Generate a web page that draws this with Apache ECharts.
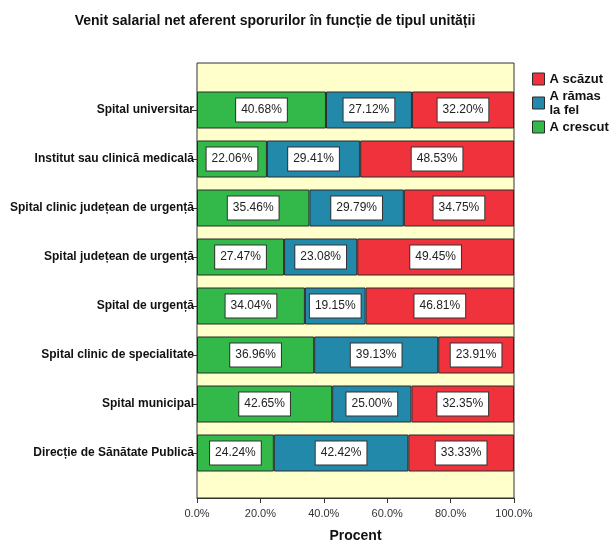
<!DOCTYPE html>
<html>
<head>
<meta charset="utf-8">
<script src="https://cdn.jsdelivr.net/npm/echarts@6/dist/echarts.min.js"></script>
<style>
  html, body { margin: 0; padding: 0; background: #fff; }
  #chart { width: 609px; height: 542px; }
</style>
</head>
<body>
<div id="chart"></div>
<script>
// Unit types, top to bottom
const categories = [
  'Spital universitar',
  'Institut sau clinică medicală',
  'Spital clinic județean de urgență',
  'Spital județean de urgență',
  'Spital de urgență',
  'Spital clinic de specialitate',
  'Spital municipal',
  'Direcție de Sănătate Publică'
];

// Percentages per answer
const aCrescut = [40.68, 22.06, 35.46, 27.47, 34.04, 36.96, 42.65, 24.24];
const aRamasLaFel = [27.12, 29.41, 29.79, 23.08, 19.15, 39.13, 25.00, 42.42];
const aScazut = [32.20, 48.53, 34.75, 49.45, 46.81, 23.91, 32.35, 33.33];

const xTicks = [0, 20, 40, 60, 80, 100];

const FONT = '"Liberation Sans", Arial, sans-serif';

function makeSeries(name, data, color) {
  return {
    name: name,
    type: 'bar',
    stack: 'total',
    xAxisIndex: 1,
    yAxisIndex: 1,
    barWidth: 37,
    data: data,
    itemStyle: { color: color, borderColor: '#2b2b2b', borderWidth: 1 },
    label: {
      show: true,
      position: 'inside',
      formatter: p => p.value.toFixed(2) + '%',
      fontFamily: FONT,
      fontSize: 12,
      color: '#222',
      backgroundColor: '#fff',
      borderColor: '#333',
      borderWidth: 1,
      padding: [6, 5, 5, 5]
    },
    emphasis: { disabled: true }
  };
}

const chart = echarts.init(document.getElementById('chart'), null, { renderer: 'canvas' });

chart.setOption({
  animation: false,
  title: {
    text: 'Venit salarial net aferent sporurilor în funcție de tipul unității',
    left: 270,
    textAlign: 'center',
    top: 9,
    textStyle: { fontFamily: FONT, fontSize: 14, fontWeight: 'bold', color: '#111' }
  },
  legend: {
    orient: 'vertical',
    left: 532,
    top: 72,
    padding: 0,
    icon: 'rect',
    itemWidth: 12,
    itemHeight: 12,
    itemGap: 3,
    data: ['A scăzut', 'A rămas\nla fel', 'A crescut'],
    itemStyle: { borderColor: '#2b2b2b', borderWidth: 1 },
    textStyle: { fontFamily: FONT, fontSize: 13, fontWeight: 'bold', color: '#111', lineHeight: 14 }
  },
  grid: [
    { // framed plot area
      left: 197, top: 63, width: 317, height: 435,
      outerBoundsMode: 'none', containLabel: false,
      show: true, backgroundColor: '#ffffcc', borderColor: '#333', borderWidth: 1
    },
    { // band area for the bars
      left: 197, top: 85.5, width: 317, height: 392,
      outerBoundsMode: 'none', containLabel: false
    }
  ],
  xAxis: [
    {
      gridIndex: 0,
      type: 'value',
      min: xTicks[0],
      max: xTicks[xTicks.length - 1],
      interval: 20,
      splitLine: { show: false },
      axisLine: { show: true, lineStyle: { color: '#333' } },
      axisTick: { show: true, length: 5, lineStyle: { color: '#333' } },
      axisLabel: {
        formatter: v => v.toFixed(1) + '%',
        fontFamily: FONT, fontSize: 11, color: '#333', margin: 10
      },
      name: 'Procent',
      nameLocation: 'middle',
      nameGap: 31,
      nameTextStyle: { fontFamily: FONT, fontSize: 14, fontWeight: 'bold', color: '#111' }
    },
    {
      gridIndex: 1,
      type: 'value',
      min: 0,
      max: 100,
      show: false
    }
  ],
  yAxis: [
    {
      gridIndex: 0,
      type: 'value',
      show: false
    },
    {
      gridIndex: 1,
      type: 'category',
      inverse: true,
      data: categories,
      axisLine: { show: false },
      axisTick: { show: true, alignWithLabel: true, length: 5, lineStyle: { color: '#333' } },
      axisLabel: {
        fontFamily: FONT, fontSize: 12, fontWeight: 'bold', color: '#111', margin: 3
      }
    }
  ],
  series: [
    makeSeries('A crescut', aCrescut, '#33b84a'),
    makeSeries('A rămas\nla fel', aRamasLaFel, '#2389ab'),
    makeSeries('A scăzut', aScazut, '#f0323c')
  ]
});
</script>
</body>
</html>
